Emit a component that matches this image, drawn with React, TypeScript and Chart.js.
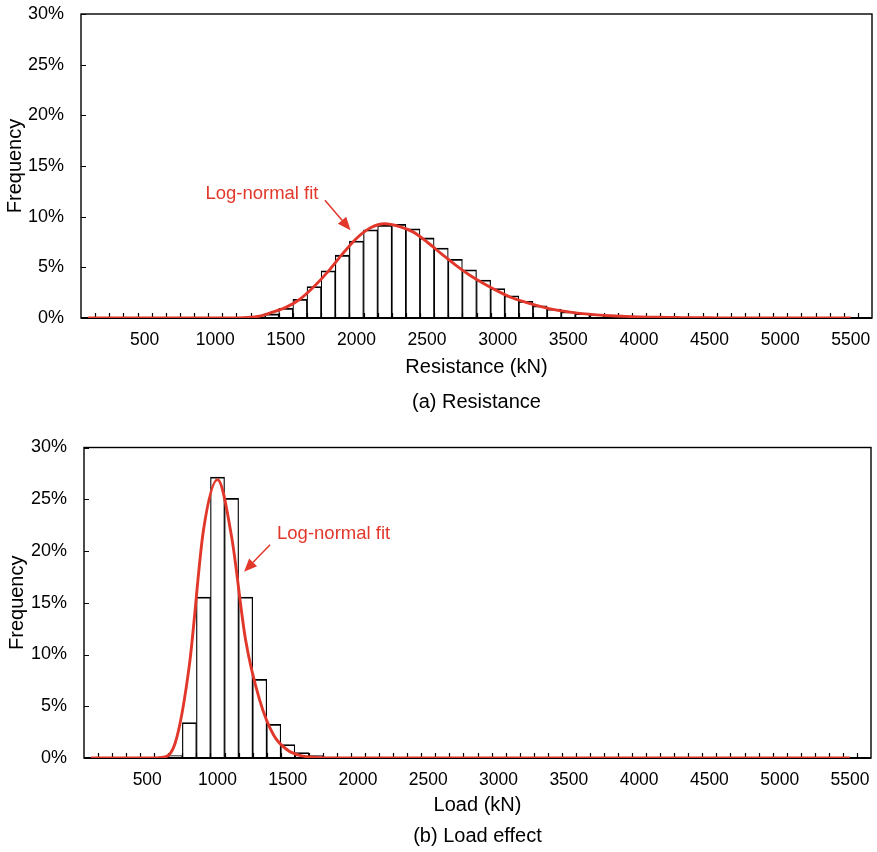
import React, { useEffect, useRef } from 'react';
import { Chart, registerables } from 'chart.js';

Chart.register(...registerables);

const FONT = "'Liberation Sans', Arial, Helvetica, sans-serif";
const RED = '#e2372b';

// Bin categories (kN)
const binLabels = [
  '100', '200', '300', '400', '500', '600', '700', '800', '900', '1000',
  '1100', '1200', '1300', '1400', '1500', '1600', '1700', '1800', '1900', '2000',
  '2100', '2200', '2300', '2400', '2500', '2600', '2700', '2800', '2900', '3000',
  '3100', '3200', '3300', '3400', '3500', '3600', '3700', '3800', '3900', '4000',
  '4100', '4200', '4300', '4400', '4500', '4600', '4700', '4800', '4900', '5000',
  '5100', '5200', '5300', '5400', '5500', '5600',
];

// Labels shown on the x axis
const tickLabels = ['500', '1000', '1500', '2000', '2500', '3000', '3500', '4000', '4500', '5000', '5500'];

// (a) Resistance histogram (%)
const resistanceFreq = [
  0, 0, 0, 0, 0, 0, 0, 0, 0, 0,
  0, 0, 0.1, 0.4, 0.96, 1.85, 3.1, 4.65, 6.2, 7.6,
  8.7, 9.15, 9.25, 8.8, 7.9, 6.9, 5.8, 4.75, 3.75, 2.9,
  2.2, 1.65, 1.2, 0.88, 0.62, 0.45, 0.32, 0.22, 0.15, 0.1,
  0.06, 0.04, 0, 0, 0, 0, 0, 0, 0, 0,
  0, 0, 0, 0, 0, 0,
];

// (a) Resistance log-normal fit (%)
const resistanceFit = [
  0, 0, 0, 0, 0, 0, 0, 0, 0, 0,
  0, 0.02, 0.15, 0.55, 1.05, 1.85, 3.1, 4.6, 6.3, 7.85,
  8.9, 9.3, 9.05, 8.5, 7.5, 6.35, 5.25, 4.25, 3.4, 2.65,
  2.0, 1.55, 1.15, 0.82, 0.6, 0.43, 0.31, 0.22, 0.16, 0.11,
  0.08, 0.05, 0.04, 0.03, 0.02, 0.01, 0, 0, 0, 0,
  0, 0, 0, 0, 0,
];

// (b) Load effect histogram (%)
const loadFreq = [
  0, 0, 0, 0, 0, 0.03, 0.23, 3.42, 15.55, 27.15,
  25.1, 15.55, 7.6, 3.25, 1.3, 0.52, 0.23, 0.1, 0.04, 0,
  0, 0, 0, 0, 0, 0, 0, 0, 0, 0,
  0, 0, 0, 0, 0, 0, 0, 0, 0, 0,
  0, 0, 0, 0, 0, 0, 0, 0, 0, 0,
  0, 0, 0, 0, 0, 0,
];

// (b) Load effect log-normal fit (%)
const loadFit = [
  0, 0, 0, 0, 0, 0.05, 1.5, 9.0, 22.0, 26.9,
  21.4, 11.4, 5.6, 2.2, 0.75, 0.2, 0.05, 0.01, 0, 0,
  0, 0, 0, 0, 0, 0, 0, 0, 0, 0,
  0, 0, 0, 0, 0, 0, 0, 0, 0, 0,
  0, 0, 0, 0, 0, 0, 0, 0, 0, 0,
  0, 0, 0, 0, 0,
];

const yTicks = [0, 5, 10, 15, 20, 25, 30];

type Note = { text: string; textAt: [number, number]; from: [number, number]; to: [number, number] };

type PanelProps = {
  top: number;
  height: number;
  freq: number[];
  fit: number[];
  xTitle: string;
  caption: string;
  yAxisWidth: number;
  padTop: number;
  padRight: number;
  xAxisHeight: number;
  titleLineHeight: number;
  titlePadBottom: number;
  yTitlePad: number;
  yLabelGap: number;
  note: Note;
};

const framePlugin = {
  id: 'frame',
  afterDatasetDraw(chart: any, args: any) {
    if (args.meta.type !== 'bar') return;
    const { ctx, chartArea: a, scales } = chart;
    const x = scales.x;
    const y = scales.y;
    ctx.save();
    ctx.strokeStyle = '#000';
    ctx.lineWidth = 1.2;
    ctx.beginPath();
    for (let i = 1; i < binLabels.length; i++) {
      const px = Math.round(x.getPixelForValue(i - 0.5)) + 0.5;
      ctx.moveTo(px, a.bottom);
      ctx.lineTo(px, a.bottom - 5);
    }
    for (const v of yTicks) {
      const py = Math.round(y.getPixelForValue(v)) + 0.5;
      ctx.moveTo(a.left, py);
      ctx.lineTo(a.left + 5, py);
    }
    ctx.stroke();
    ctx.lineWidth = 1.4;
    ctx.strokeRect(a.left, a.top, a.right - a.left, a.bottom - a.top);
    ctx.lineWidth = 2;
    ctx.beginPath();
    ctx.moveTo(a.left, a.bottom);
    ctx.lineTo(a.right, a.bottom);
    ctx.stroke();
    ctx.restore();
  },
};

const notePlugin = {
  id: 'note',
  afterDraw(chart: any, _args: any, opts: any) {
    const n: Note | undefined = opts && opts.note;
    if (!n) return;
    const { ctx, scales } = chart;
    const x = scales.x;
    const y = scales.y;
    const P = (p: [number, number]) => [x.getPixelForValue(p[0]), y.getPixelForValue(p[1])];
    const [tx, ty] = P(n.textAt);
    const [fx, fy] = P(n.from);
    const [ex, ey] = P(n.to);
    ctx.save();
    ctx.fillStyle = RED;
    ctx.strokeStyle = RED;
    ctx.font = `18.5px ${FONT}`;
    ctx.textAlign = 'center';
    ctx.textBaseline = 'middle';
    ctx.fillText(n.text, tx, ty);
    const dx = ex - fx;
    const dy = ey - fy;
    const len = Math.hypot(dx, dy);
    const ux = dx / len;
    const uy = dy / len;
    const headLen = 13;
    const headHalf = 5.5;
    const bx = ex - ux * headLen;
    const by = ey - uy * headLen;
    ctx.lineWidth = 1.5;
    ctx.beginPath();
    ctx.moveTo(fx, fy);
    ctx.lineTo(bx, by);
    ctx.stroke();
    ctx.beginPath();
    ctx.moveTo(ex, ey);
    ctx.lineTo(bx - uy * headHalf, by + ux * headHalf);
    ctx.lineTo(bx + uy * headHalf, by - ux * headHalf);
    ctx.closePath();
    ctx.fill();
    ctx.restore();
  },
};

function Panel(props: PanelProps) {
  const ref = useRef<HTMLCanvasElement | null>(null);
  useEffect(() => {
    if (!ref.current) return;
    const chart = new Chart(ref.current, {
      type: 'bar',
      data: {
        labels: binLabels,
        datasets: [
          {
            type: 'line',
            data: props.fit,
            borderColor: RED,
            borderWidth: 2.9,
            pointRadius: 0,
            fill: false,
            cubicInterpolationMode: 'monotone',
            order: 0,
          } as any,
          {
            type: 'bar',
            data: props.freq.map((v) => (v === 0 ? null : v)),
            backgroundColor: '#ffffff',
            borderColor: '#000000',
            borderWidth: { top: 1.8, left: 1.2, right: 1.2, bottom: 0 },
            barPercentage: 1,
            categoryPercentage: 1,
            order: 1,
          } as any,
        ],
      },
      options: {
        responsive: false,
        animation: false,
        events: [],
        layout: { padding: { top: props.padTop, right: props.padRight, left: 0, bottom: 0 } },
        plugins: {
          legend: { display: false },
          tooltip: { enabled: false },
          title: { display: false },
          note: { note: props.note },
        } as any,
        scales: {
          x: {
            type: 'category',
            offset: true,
            grid: { display: false, drawTicks: false },
            border: { display: false },
            ticks: {
              autoSkip: false,
              maxRotation: 0,
              minRotation: 0,
              padding: 12,
              color: '#000',
              font: { family: FONT, size: 17.5 },
              callback: (_v: any, i: number) => (tickLabels.includes(binLabels[i]) ? binLabels[i] : ''),
            },
            title: {
              display: true,
              text: [props.xTitle, props.caption],
              color: '#000',
              font: { family: FONT, size: 20, lineHeight: props.titleLineHeight / 20 },
              padding: { top: 0, bottom: props.titlePadBottom },
            },
            afterFit: (s: any) => {
              s.height = props.xAxisHeight;
            },
          },
          y: {
            type: 'linear',
            min: 0,
            max: 30,
            grid: {
              display: true,
              drawOnChartArea: false,
              drawTicks: true,
              tickLength: props.yLabelGap,
              tickColor: 'rgba(0,0,0,0)',
            },
            border: { display: false },
            ticks: {
              stepSize: 5,
              padding: 0,
              color: '#000',
              font: { family: FONT, size: 18 },
              callback: (v: any) => `${v}%`,
            },
            title: {
              display: true,
              text: 'Frequency',
              color: '#000',
              font: { family: FONT, size: 20 },
              padding: { top: props.yTitlePad, bottom: 0 },
            },
            afterFit: (s: any) => {
              s.width = props.yAxisWidth;
            },
          },
        },
      } as any,
      plugins: [framePlugin, notePlugin],
    });
    return () => chart.destroy();
  }, []);
  return (
    <canvas
      ref={ref}
      width={877}
      height={props.height}
      style={{ position: 'absolute', left: 0, top: props.top, width: 877, height: props.height }}
    />
  );
}

export default function App() {
  return (
    <div style={{ position: 'absolute', left: 0, top: 0, width: 877, height: 852, background: '#fff' }}>
      <Panel
        top={0}
        height={425}
        freq={resistanceFreq}
        fit={resistanceFit}
        xTitle="Resistance (kN)"
        caption="(a) Resistance"
        yAxisWidth={81}
        padTop={14}
        padRight={5}
        xAxisHeight={107}
        titleLineHeight={35}
        titlePadBottom={5.5}
        yTitlePad={3}
        yLabelGap={17}
        note={{ text: 'Log-normal fit', textAt: [12.31, 12.2], from: [16.77, 11.63], to: [18.58, 8.67] }}
      />
      <Panel
        top={425}
        height={427}
        freq={loadFreq}
        fit={loadFit}
        xTitle="Load (kN)"
        caption="(b) Load effect"
        yAxisWidth={84}
        padTop={22.5}
        padRight={6}
        xAxisHeight={94}
        titleLineHeight={31}
        titlePadBottom={0}
        yTitlePad={5}
        yLabelGap={17}
        note={{ text: 'Log-normal fit', textAt: [17.26, 21.61], from: [12.74, 20.6], to: [10.89, 18.0] }}
      />
    </div>
  );
}
